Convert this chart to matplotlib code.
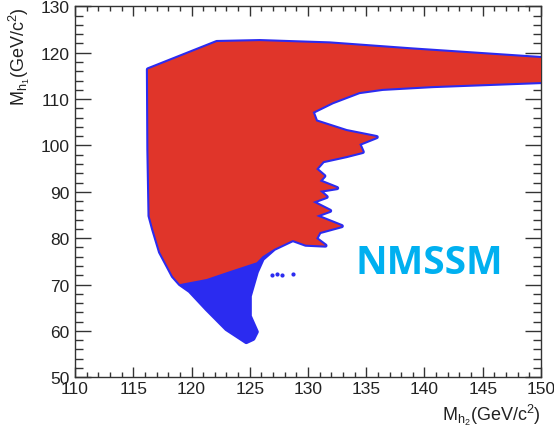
import numpy as np
import matplotlib
matplotlib.use("Agg")
import matplotlib.pyplot as plt
from matplotlib.ticker import MultipleLocator

# Outline of the red (allowed) region: (M_h2, M_h1) in GeV
red_x = [116.26, 122.17, 125.85, 131.85, 138.96, 150.3, 150.3, 140.7, 136.4,
         134.4, 132.1, 130.4, 130.7, 133.3, 135.9, 134.4, 134.7, 133.3, 131.3,
         130.7, 131.4, 131.0, 132.5, 131.0, 131.6, 130.4, 131.9, 130.7, 132.9,
         131.0, 130.7, 131.5, 129.8, 128.7, 127.1, 126.1, 125.6, 123.3, 121.3,
         119.0, 118.4, 117.3, 116.7, 116.4, 116.3]
red_y = [116.4, 122.3, 122.5, 122.0, 120.7, 118.8, 113.7, 112.8, 112.2,
         111.5, 109.3, 107.2, 105.2, 103.1, 101.8, 100.3, 98.6, 97.7, 96.6,
         94.9, 93.4, 92.3, 90.8, 90.2, 88.9, 87.8, 85.9, 84.8, 82.6,
         81.3, 79.9, 78.4, 78.6, 79.6, 77.7, 76.1, 74.8, 72.9, 71.2,
         70.1, 71.8, 77.0, 82.0, 84.8, 99.2]

# Outline of the blue (all points) region, same upper part plus the low-M_h1 tail
blue_x = [116.26, 122.17, 125.85, 131.85, 138.96, 150.3, 150.3, 140.7, 136.4,
          134.4, 132.1, 130.4, 130.7, 133.3, 135.9, 134.4, 134.7, 133.3, 131.3,
          130.7, 131.4, 131.0, 132.5, 131.0, 131.6, 130.4, 131.9, 130.7, 132.9,
          131.0, 130.7, 131.5, 129.8, 128.7, 127.1, 126.1, 125.6, 125.0, 125.0,
          125.6, 125.3, 124.7, 123.0, 121.3, 119.85, 119.0, 118.4, 117.3, 116.7,
          116.4, 116.3]
blue_y = [116.4, 122.3, 122.5, 122.0, 120.7, 118.8, 113.7, 112.8, 112.2,
          111.5, 109.3, 107.2, 105.2, 103.1, 101.8, 100.3, 98.6, 97.7, 96.6,
          94.9, 93.4, 92.3, 90.8, 90.2, 88.9, 87.8, 85.9, 84.8, 82.6,
          81.3, 79.9, 78.4, 78.6, 79.6, 77.7, 75.5, 72.7, 67.5, 63.2,
          59.8, 58.3, 57.6, 60.4, 64.7, 68.6, 70.1, 71.8, 77.0, 82.0,
          84.8, 99.2]

# stray blue points right of the tail
dots_x = [127.3, 127.8, 128.7, 126.9]
dots_y = [72.3, 72.1, 72.3, 72.0]

RED = "#e0352a"
BLUE = "#2b2bf0"
AXC = "#333333"

plt.rcParams["font.family"] = ["Liberation Sans", "DejaVu Sans"]
plt.rcParams["mathtext.fontset"] = "custom"
plt.rcParams["mathtext.rm"] = "Liberation Sans"

fig = plt.figure(figsize=(5.54, 4.31), dpi=100)
ax = fig.add_axes([0.1354, 0.1223, 0.8411, 0.8607])

ax.fill(blue_x, blue_y, facecolor=BLUE, edgecolor=BLUE, linewidth=3.0,
        joinstyle="round", zorder=2)
ax.scatter(dots_x, dots_y, s=4, color=BLUE, zorder=2)
ax.fill(red_x, red_y, facecolor=RED, edgecolor="none", zorder=3)

ax.text(140.4, 74.8, "NMSSM", color="#00b0f0", fontsize=28, fontweight="bold",
        family="Open Sans", ha="center", va="center", zorder=4)

ax.set_xlim(110, 150)
ax.set_ylim(50, 130)
ax.xaxis.set_major_locator(MultipleLocator(5))
ax.xaxis.set_minor_locator(MultipleLocator(1))
ax.yaxis.set_major_locator(MultipleLocator(10))
ax.yaxis.set_minor_locator(MultipleLocator(2))

for s in ax.spines.values():
    s.set_color(AXC)
    s.set_linewidth(1.0)
ax.tick_params(which="both", direction="in", top=True, right=True,
               colors=AXC, labelcolor="#222222", labelsize=12.5)
ax.tick_params(axis="x", which="major", length=7.5, width=1.0, pad=3)
ax.tick_params(axis="x", which="minor", length=3.8, width=1.0)
ax.tick_params(axis="y", which="major", length=11.5, width=1.0, pad=4)
ax.tick_params(axis="y", which="minor", length=5.8, width=1.0)

ax.set_xlabel(r"$\mathregular{M_{h_{2}}(GeV/c^{2})}$", loc="right",
              fontsize=13, color="#222222", labelpad=4)
ax.set_ylabel(r"$\mathregular{M_{h_{1}}(GeV/c^{2})}$", loc="top",
              fontsize=13, color="#222222", labelpad=6)

fig.savefig("out.png", dpi=100)
